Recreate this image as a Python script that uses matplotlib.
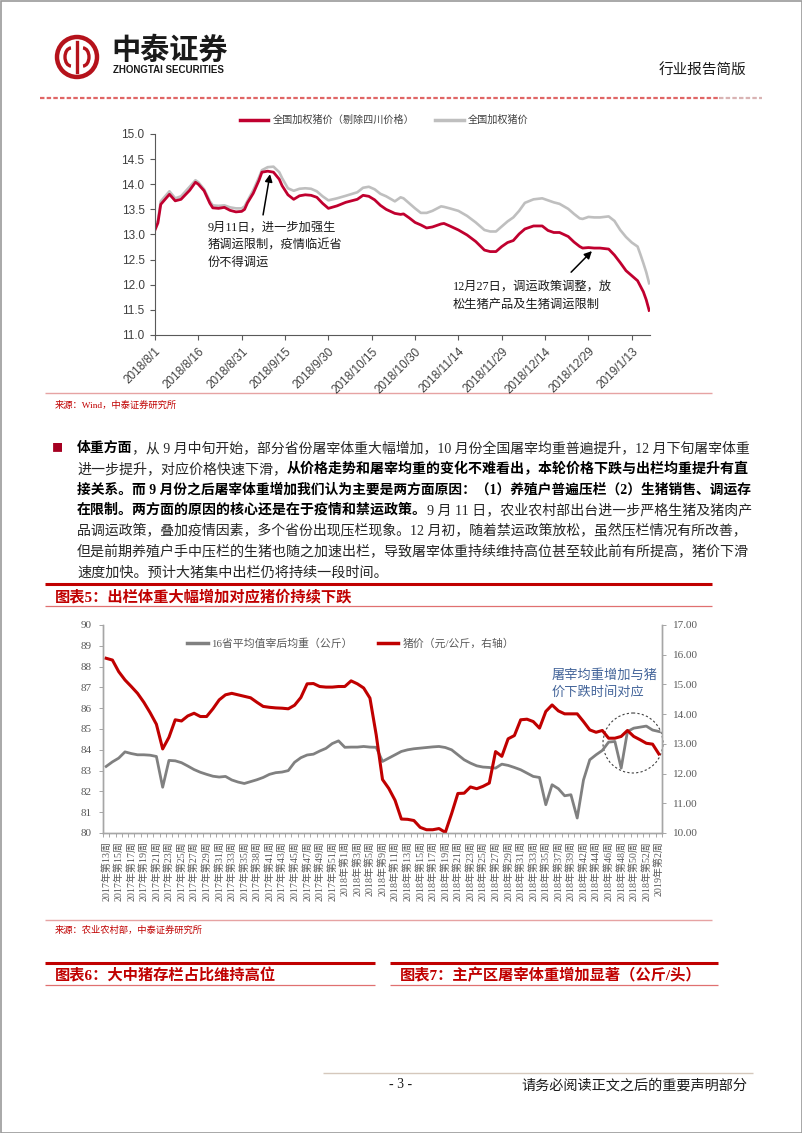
import matplotlib
matplotlib.use("Agg")
import matplotlib.pyplot as plt
import matplotlib.dates as mdates
import numpy as np
import pandas as pd
from matplotlib.lines import Line2D
from matplotlib.patches import Circle, Arc, Rectangle

W, H = 802, 1133
CJK = ["Noto Sans CJK SC", "DejaVu Sans"]
SERIF = ["Liberation Serif", "Noto Sans CJK SC"]
SANS = ["Liberation Sans", "Noto Sans CJK SC"]
RED = "#C00000"
CRIMSON = "#C0002F"
plt.rcParams["font.family"] = CJK
plt.rcParams["axes.unicode_minus"] = False

# ---------------- chart 1: national weighted hog price ----------------
start = pd.Timestamp("2018-08-01")
day_offset = [0, 1, 2, 5, 7, 9, 12, 14, 15, 17,
              19, 20, 22, 24, 26, 28, 30, 31, 32, 34,
              36, 37, 39, 41, 43, 44, 46, 48, 50, 52,
              54, 56, 58, 60, 63, 66, 70, 72, 74, 76,
              78, 80, 83, 85, 86, 88, 90, 92, 94, 96,
              99, 100, 102, 105, 108, 111, 114, 116, 118, 120,
              122, 124, 126, 128, 131, 134, 136, 138, 140, 143,
              145, 147, 148, 150, 152, 154, 157, 159, 161, 163,
              165, 167, 168, 169, 170, 171]
price_ex_sichuan = [13.09, 13.23, 13.60, 13.80, 13.67, 13.70, 13.88, 14.04, 14.00, 13.87,
                    13.62, 13.53, 13.52, 13.54, 13.48, 13.45, 13.46, 13.50, 13.63, 13.82,
                    14.08, 14.24, 14.26, 14.24, 14.10, 13.97, 13.79, 13.70, 13.77, 13.79,
                    13.78, 13.74, 13.62, 13.52, 13.57, 13.64, 13.70, 13.78, 13.76, 13.69,
                    13.58, 13.50, 13.42, 13.40, 13.41, 13.33, 13.24, 13.19, 13.13, 13.15,
                    13.21, 13.22, 13.17, 13.09, 12.99, 12.86, 12.69, 12.66, 12.66, 12.76,
                    12.84, 12.88, 13.01, 13.11, 13.17, 13.17, 13.08, 13.04, 13.04, 12.96,
                    12.85, 12.76, 12.73, 12.74, 12.73, 12.73, 12.71, 12.59, 12.44, 12.28,
                    12.18, 12.08, 11.97, 11.86, 11.70, 11.49]
price_national = [13.13, 13.28, 13.66, 13.86, 13.72, 13.76, 13.95, 14.08, 14.04, 13.90,
                  13.66, 13.58, 13.57, 13.58, 13.54, 13.52, 13.52, 13.56, 13.67, 13.88,
                  14.14, 14.28, 14.34, 14.35, 14.24, 14.12, 13.92, 13.87, 13.91, 13.92,
                  13.91, 13.86, 13.76, 13.68, 13.72, 13.77, 13.84, 13.93, 13.95, 13.90,
                  13.81, 13.76, 13.66, 13.74, 13.72, 13.62, 13.52, 13.43, 13.43, 13.47,
                  13.56, 13.55, 13.52, 13.47, 13.37, 13.24, 13.09, 13.06, 13.06, 13.16,
                  13.26, 13.34, 13.47, 13.63, 13.70, 13.72, 13.68, 13.64, 13.61, 13.51,
                  13.41, 13.32, 13.31, 13.35, 13.34, 13.34, 13.36, 13.27, 13.09, 12.95,
                  12.84, 12.76, 12.60, 12.43, 12.25, 12.03]
price_tick_dates = ["2018-08-01", "2018-08-16", "2018-08-31", "2018-09-15", "2018-09-30",
                    "2018-10-15", "2018-10-30", "2018-11-14", "2018-11-29", "2018-12-14",
                    "2018-12-29", "2019-01-13"]
legend1 = ["全国加权猪价（剔除四川价格）", "全国加权猪价"]

# ---------------- chart 5: carcass weight vs hog price ----------------
weeks_2017 = list(range(13, 36)) + [36, 38, 39] + list(range(41, 53))
weeks_2018 = list(range(1, 6)) + [8] + list(range(9, 40)) + [41] + list(range(42, 53))
weeks_2019 = [1, 2]
week_labels = ([f"2017年第{w}周" for w in weeks_2017]
               + [f"2018年第{w}周" for w in weeks_2018]
               + [f"2019年第{w}周" for w in weeks_2019])
carcass_weight = [83.20, 83.42, 83.60, 83.90, 83.82, 83.76, 83.76, 83.74, 83.68, 82.20,
                  83.49, 83.47, 83.38, 83.22, 83.05, 82.92, 82.82, 82.73, 82.69, 82.72,
                  82.55, 82.45, 82.38, 82.47, 82.56, 82.67, 82.82, 82.90, 82.93, 83.00,
                  83.40, 83.62, 83.75, 83.79, 83.94, 84.07, 84.30, 84.43, 84.12, 84.13,
                  84.13, 84.16, 84.13, 84.12, 83.44, 83.60, 83.76, 83.92, 84.00, 84.05,
                  84.08, 84.11, 84.14, 84.16, 84.11, 84.00, 83.76, 83.52, 83.36, 83.23,
                  83.17, 83.15, 83.12, 83.31, 83.25, 83.15, 83.04, 82.88, 82.72, 82.67,
                  81.36, 82.32, 82.13, 81.79, 81.84, 80.72, 82.55, 83.52, 83.76, 83.97,
                  84.37, 84.40, 83.12, 84.88, 85.04, 85.09, 85.14, 84.95, 84.88]
hog_price = [15.88, 15.82, 15.43, 15.15, 14.93, 14.70, 14.40, 14.05, 13.66, 12.83,
             13.22, 13.81, 13.77, 13.94, 14.03, 13.92, 13.92, 14.18, 14.48, 14.65,
             14.70, 14.65, 14.60, 14.55, 14.40, 14.26, 14.23, 14.21, 14.20, 14.18,
             14.30, 14.56, 15.02, 15.03, 14.93, 14.91, 14.91, 14.93, 14.93, 15.12,
             15.02, 14.88, 14.54, 13.30, 11.80, 11.50, 11.10, 10.47, 10.46, 10.42,
             10.19, 10.11, 10.11, 10.15, 10.02, 10.65, 11.33, 11.34, 11.55, 11.49,
             11.57, 11.68, 12.74, 12.58, 13.17, 13.28, 13.81, 13.83, 13.75, 13.53,
             14.09, 14.31, 14.11, 14.01, 14.01, 14.01, 13.75, 13.47, 13.39, 13.45,
             13.19, 13.19, 13.25, 13.45, 13.25, 13.14, 13.02, 12.99, 12.66]
legend5 = ["16省平均值宰后均重（公斤）", "猪价（元/公斤，右轴）"]

# ---------------- body text ----------------
paragraph = [
    [("体重方面", True), ("，从 9 月中旬开始，部分省份屠宰体重大幅增加，10 月份全国屠宰均重普遍提升，12 月下旬屠宰体重", False)],
    [("进一步提升，对应价格快速下滑，", False), ("从价格走势和屠宰均重的变化不难看出，本轮价格下跌与出栏均重提升有直", True)],
    [("接关系。而 9 月份之后屠宰体重增加我们认为主要是两方面原因：（1）养殖户普遍压栏（2）生猪销售、调运存", True)],
    [("在限制。两方面的原因的核心还是在于疫情和禁运政策。", True), ("9 月 11 日，农业农村部出台进一步严格生猪及猪肉产", False)],
    [("品调运政策，叠加疫情因素，多个省份出现压栏现象。12 月初，随着禁运政策放松，虽然压栏情况有所改善，", False)],
    [("但是前期养殖户手中压栏的生猪也随之加速出栏，导致屠宰体重持续维持高位甚至较此前有所提高，猪价下滑", False)],
    [("速度加快。预计大猪集中出栏仍将持续一段时间。", False)],
]

fig = plt.figure(figsize=(W / 100, H / 100), dpi=100)
page = fig.add_axes([0, 0, 1, 1])
page.set_xlim(0, W)
page.set_ylim(H, 0)
page.axis("off")


def box(x0, y0, x1, y1):
    return [x0 / W, 1 - y1 / H, (x1 - x0) / W, (y1 - y0) / H]


def hline(x0, x1, y, color, lw, ls="-"):
    page.plot([x0, x1], [y, y], color=color, lw=lw, ls=ls, solid_capstyle="butt")


# page frame and header
page.add_patch(Rectangle((0.5, 0.5), W - 1, H - 1, fill=False, ec="#9a9a9a", lw=1.2))
page.add_patch(Circle((77, 57), 20, fill=False, ec="#B5121B", lw=3.2))
page.plot([77, 77], [42, 72], color="#B5121B", lw=2.4)
page.add_patch(Arc((71, 57), 12, 18, theta1=90, theta2=270, ec="#B5121B", lw=2.4))
page.add_patch(Arc((83, 57), 12, 18, theta1=-90, theta2=90, ec="#B5121B", lw=2.4))
page.text(111, 50, "中泰证券", fontsize=21, fontweight="bold", color="#1a1a1a", va="center")
page.text(113, 70, "ZHONGTAI SECURITIES", family=SANS, fontsize=7, fontweight="bold",
          color="#1a1a1a", va="center")
page.text(746, 70, "行业报告简版", fontsize=10.5, color="#1a1a1a", ha="right", va="center")
hline(40, 719, 98, "#E06666", 1.6, (0, (2, 1)))
hline(719, 762, 98, "#D9B3B3", 1.6, (0, (2, 1)))

# ---------------- chart 1 ----------------
ax1 = fig.add_axes(box(155, 134, 650, 335))
ax1.set_facecolor("none")
dates = start + pd.to_timedelta(day_offset, unit="D")
ax1.plot(dates, price_national, color="#BFBFBF", lw=1.9)
ax1.plot(dates, price_ex_sichuan, color=CRIMSON, lw=2.0)
ax1.set_ylim(11, 15)
ax1.set_yticks(np.arange(11, 15.01, 0.5))
ax1.set_yticklabels([f"{v:.1f}" for v in np.arange(11, 15.01, 0.5)], family=SANS, fontsize=8.5,
                    color="#404040")
ticks = pd.to_datetime(price_tick_dates)
ax1.set_xlim(start, start + pd.Timedelta(days=171.3))
ax1.set_xticks(ticks)
ax1.set_xticklabels([f"{d.year}/{d.month}/{d.day}" for d in ticks], rotation=45, ha="right",
                    rotation_mode="anchor", family=SANS, fontsize=8.5, color="#404040")
ax1.tick_params(axis="both", direction="out", length=3.5, width=0.8, color="#595959", pad=4)
for s in ["top", "right"]:
    ax1.spines[s].set_visible(False)
for s in ["left", "bottom"]:
    ax1.spines[s].set_color("#595959")
    ax1.spines[s].set_linewidth(0.8)
ax1.legend([Line2D([], [], color=CRIMSON, lw=2.5), Line2D([], [], color="#BFBFBF", lw=2.5)],
           legend1, ncol=2, frameon=False, loc="center left",
           bbox_to_anchor=(240 / W, 1 - 120 / H), bbox_transform=fig.transFigure,
           prop=dict(family=CJK, size=7.3), labelcolor="#404040", handlelength=2.8,
           handletextpad=0.4, columnspacing=2.1, borderpad=0, borderaxespad=0)

d0 = mdates.date2num(start)
arrow = dict(arrowstyle="-|>", color="black", lw=1.1, mutation_scale=11, shrinkA=0, shrinkB=0)
ax1.annotate("", xy=(d0 + 39.8, 14.20), xytext=(d0 + 37.4, 13.39), arrowprops=arrow)
ax1.annotate("", xy=(d0 + 151.2, 12.67), xytext=(d0 + 144.0, 12.25), arrowprops=arrow)


def text_lines(x, y, lines, step, **kw):
    for k, s in enumerate(lines):
        page.text(x, y + k * step, s, va="center", **kw)


text_lines(208, 228, ["9月11日，进一步加强生", "猪调运限制，疫情临近省", "份不得调运"], 17.5,
           family=SERIF, fontsize=8.8, color="#1a1a1a")
text_lines(453, 287, ["12月27日，调运政策调整，放", "松生猪产品及生猪调运限制"], 18,
           family=SERIF, fontsize=8.8, color="#1a1a1a")

hline(45, 712, 393, "#E6A3A3", 1.0)
page.text(55, 405, "来源：Wind，中泰证券研究所", family=SERIF, fontsize=6.7, color=RED, va="center")

# ---------------- paragraph (lines fitted to the text block width) ----------------
renderer = fig.canvas.get_renderer()
page.text(57, 448, "■", fontsize=8, color="#A50021", va="center", ha="center")


def draw_runs(x, y, runs, size):
    made = []
    for s, bold in runs:
        t = page.text(x, y, s, family=SERIF, fontsize=size, va="center",
                      fontweight="bold" if bold else "normal",
                      color="#000000" if bold else "#262626")
        made.append(t)
        x += t.get_window_extent(renderer).width
    return made, x


base = 10.2
for k, runs in enumerate(paragraph):
    y = 448 + k * 20.8
    made, x_end = draw_runs(77, y, runs, base)
    if k < len(paragraph) - 1:
        for t in made:
            t.remove()
        draw_runs(77, y, runs, base * (748 - 77) / (x_end - 77))

# ---------------- chart 5 ----------------
hline(45, 712, 584, RED, 2.2)
page.text(55, 597, "图表5：出栏体重大幅增加对应猪价持续下跌", family=SERIF, fontsize=11,
          fontweight="bold", color=RED, va="center")
hline(45, 712, 606, "#E07070", 0.9)

ax5 = fig.add_axes(box(103, 625, 662, 833))
ax5.set_facecolor("none")
x5 = np.arange(len(week_labels))
ax5.plot(x5, carcass_weight, color="#808080", lw=2.0)
ax5r = ax5.twinx()
ax5r.plot(x5, hog_price, color=RED, lw=2.2)
ax5.set_xlim(-0.5, len(week_labels) - 0.5)
ax5.set_ylim(80, 90)
ax5r.set_ylim(10, 17)
ax5.set_yticks(range(80, 91))
ax5.set_yticklabels([str(v) for v in range(80, 91)], family=SERIF, fontsize=8, color="#595959")
ax5r.set_yticks(range(10, 18))
ax5r.set_yticklabels([f"{v:.2f}" for v in range(10, 18)], family=SERIF, fontsize=8,
                     color="#595959")
ax5.set_xticks(np.arange(-0.5, len(week_labels), 1))
ax5.set_xticklabels([])
ax5.set_xticks(x5[::2], minor=True)
ax5.set_xticklabels(week_labels[::2], minor=True, rotation=90, family=SERIF, fontsize=7.2,
                    color="#595959")
ax5.tick_params(axis="x", which="major", direction="out", length=3, width=0.7, color="#A6A6A6")
ax5.tick_params(axis="x", which="minor", length=0, pad=6)
ax5.tick_params(axis="y", direction="out", length=3, width=0.7, color="#A6A6A6", pad=5)
ax5r.tick_params(axis="y", direction="out", length=3, width=0.7, color="#A6A6A6", pad=5)
for a in (ax5, ax5r):
    a.spines["top"].set_visible(False)
    for s in ["left", "right", "bottom"]:
        a.spines[s].set_color("#A6A6A6")
        a.spines[s].set_linewidth(1.0)
ax5.legend([Line2D([], [], color="#808080", lw=2.5), Line2D([], [], color=RED, lw=2.5)],
           legend5, ncol=2, frameon=False, loc="center left",
           bbox_to_anchor=(187 / W, 1 - 644 / H), bbox_transform=fig.transFigure,
           prop=dict(family=SERIF, size=7.8), labelcolor="#595959", handlelength=1.9,
           handletextpad=0.35, columnspacing=2.3, borderpad=0, borderaxespad=0)

page.add_patch(Circle((633, 743), 30, fill=False, ec="#404040", lw=0.8, ls=(0, (2, 2))))
text_lines(552, 675, ["屠宰均重增加与猪", "价下跌时间对应"], 17.5, fontsize=9.5, color="#44659A")

hline(45, 712, 920, "#E6A3A3", 1.0)
page.text(55, 930, "来源：农业农村部，中泰证券研究所", family=SERIF, fontsize=6.7, color=RED,
          va="center")

# ---------------- next section headings ----------------
hline(45, 375, 963, RED, 2.2)
hline(390, 718, 963, RED, 2.2)
page.text(55, 976, "图表6：大中猪存栏占比维持高位", family=SERIF, fontsize=11, fontweight="bold",
          color=RED, va="center")
page.text(400, 976, "图表7：主产区屠宰体重增加显著（公斤/头）", family=SERIF, fontsize=11,
          fontweight="bold", color=RED, va="center")
hline(45, 375, 985, "#E07070", 0.9)
hline(390, 718, 985, "#E07070", 0.9)

# ---------------- footer ----------------
hline(323, 753, 1073, "#D5C8BC", 1.0)
page.text(401, 1085, "- 3 -", family=SERIF, fontsize=10, color="#1a1a1a", ha="center", va="center")
page.text(747, 1085, "请务必阅读正文之后的重要声明部分", fontsize=10.2, color="#1a1a1a", ha="right",
          va="center")

fig.savefig("out.png", dpi=100)
